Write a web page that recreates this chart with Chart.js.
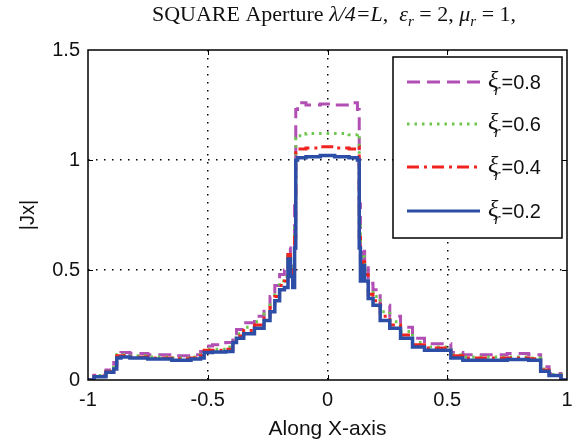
<!DOCTYPE html>
<html>
<head>
<meta charset="utf-8">
<script src="https://cdn.jsdelivr.net/npm/chart.js@4.4.1/dist/chart.umd.min.js"></script>
<style>
  html, body { margin: 0; padding: 0; background: #fff; }
  #wrap { width: 584px; height: 442px; }
</style>
</head>
<body>
<div id="wrap"><canvas id="c" width="584" height="442"></canvas></div>
<script>
// Sample positions along the x axis (shared by every curve)
const xPos = [-1, -0.95, -0.9, -0.885, -0.875, -0.85, -0.8, -0.7, -0.6, -0.54,
  -0.52, -0.51, -0.45, -0.4, -0.39, -0.37, -0.33, -0.28, -0.25, -0.23,
  -0.21, -0.19, -0.17, -0.16, -0.15, -0.14, -0.135, -0.13, -0.12, -0.06,
  0, 0.06, 0.12, 0.13, 0.135, 0.14, 0.15, 0.16, 0.18, 0.2,
  0.24, 0.28, 0.33, 0.38, 0.43, 0.5, 0.53, 0.6, 0.7, 0.8,
  0.88, 0.9, 0.95, 1];

// |Jx| for each value of xi_r
const jxXi02 = [0, 0.015, 0.035, 0.05, 0.1, 0.105, 0.1, 0.095, 0.09, 0.095,
  0.1, 0.125, 0.127, 0.13, 0.17, 0.19, 0.21, 0.235, 0.27, 0.31,
  0.36, 0.41, 0.42, 0.55, 0.47, 0.42, 0.6, 1.0, 1.01, 1.015,
  1.02, 1.015, 1.01, 1.0, 0.6, 0.45, 0.52, 0.45, 0.37, 0.34,
  0.27, 0.235, 0.19, 0.15, 0.135, 0.135, 0.1, 0.09, 0.09, 0.093,
  0.09, 0.04, 0.02, 0];
const jxXi04 = [0, 0.017, 0.038, 0.06, 0.11, 0.11, 0.105, 0.1, 0.097, 0.1,
  0.11, 0.135, 0.135, 0.14, 0.18, 0.2, 0.225, 0.25, 0.29, 0.33,
  0.38, 0.43, 0.45, 0.57, 0.5, 0.45, 0.65, 1.04, 1.05, 1.055,
  1.06, 1.055, 1.05, 1.06, 0.65, 0.48, 0.55, 0.48, 0.39, 0.36,
  0.29, 0.25, 0.205, 0.16, 0.145, 0.145, 0.11, 0.1, 0.1, 0.1,
  0.097, 0.045, 0.022, 0];
const jxXi06 = [0, 0.02, 0.04, 0.07, 0.115, 0.115, 0.11, 0.105, 0.1, 0.105,
  0.115, 0.14, 0.14, 0.15, 0.19, 0.21, 0.24, 0.265, 0.3, 0.35,
  0.4, 0.45, 0.47, 0.58, 0.52, 0.47, 0.7, 1.1, 1.11, 1.12,
  1.12, 1.12, 1.115, 1.12, 0.7, 0.5, 0.56, 0.5, 0.41, 0.38,
  0.31, 0.265, 0.22, 0.17, 0.15, 0.15, 0.115, 0.105, 0.105, 0.105,
  0.1, 0.05, 0.025, 0];
const jxXi08 = [0, 0.022, 0.045, 0.08, 0.12, 0.125, 0.12, 0.115, 0.11, 0.115,
  0.13, 0.155, 0.16, 0.17, 0.21, 0.23, 0.26, 0.29, 0.33, 0.38,
  0.43, 0.48, 0.5, 0.6, 0.55, 0.5, 0.8, 1.23, 1.26, 1.25,
  1.255, 1.25, 1.26, 1.23, 0.8, 0.55, 0.6, 0.53, 0.44, 0.41,
  0.34, 0.29, 0.24, 0.19, 0.165, 0.165, 0.125, 0.115, 0.115, 0.12,
  0.115, 0.06, 0.03, 0];

const xiValues = ['0.2', '0.4', '0.6', '0.8'];
const xTickLabels = ['-1', '-0.5', '0', '0.5', '1'];
const yTickLabels = ['0', '0.5', '1', '1.5'];

const pts = ys => xPos.map((x, i) => ({ x: x, y: ys[i] }));

const lineStyles = [
  { color: '#2c4ea6', dash: [], width: 3.5 },
  { color: '#f0231f', dash: [12, 5, 3, 5], width: 3 },
  { color: '#6fc64c', dash: [2.5, 5], width: 3 },
  { color: '#b24fb4', dash: [13, 7], width: 3 }
];
const curves = [jxXi02, jxXi04, jxXi06, jxXi08];

const datasets = curves.map((ys, i) => ({
  label: '\u03be r=' + xiValues[i],
  data: pts(ys),
  borderColor: lineStyles[i].color,
  borderDash: lineStyles[i].dash,
  borderWidth: lineStyles[i].width,
  pointRadius: 0,
  stepped: 'middle',
  fill: false
}));

const SERIF = '"Liberation Serif", "Times New Roman", serif';
const SANS = '"Liberation Sans", Arial, sans-serif';

// Title with italic symbols and subscripts
const titleParts = [
  { t: 'SQUARE Aperture ', it: false },
  { t: '\u03bb/4=L', it: true },
  { t: ',  ', it: false },
  { t: '\u03b5', it: true },
  { t: 'r', it: true, sub: true },
  { t: ' = 2, ', it: false },
  { t: '\u03bc', it: true },
  { t: 'r', it: true, sub: true },
  { t: ' = 1,', it: false }
];

const decorPlugin = {
  id: 'decor',
  afterDraw(chart) {
    const ctx = chart.ctx;
    const a = chart.chartArea;
    const xs = chart.scales.x, ys = chart.scales.y;
    ctx.save();

    // inward tick marks on all four sides
    ctx.strokeStyle = '#000';
    ctx.lineWidth = 1;
    ctx.beginPath();
    [-0.5, 0, 0.5].forEach(v => {
      const px = Math.round(xs.getPixelForValue(v)) + 0.5;
      ctx.moveTo(px, a.bottom); ctx.lineTo(px, a.bottom - 5);
      ctx.moveTo(px, a.top); ctx.lineTo(px, a.top + 5);
    });
    [0.5, 1].forEach(v => {
      const py = Math.round(ys.getPixelForValue(v)) + 0.5;
      ctx.moveTo(a.left, py); ctx.lineTo(a.left + 5, py);
      ctx.moveTo(a.right, py); ctx.lineTo(a.right - 5, py);
    });
    ctx.stroke();

    // axes box
    ctx.lineWidth = 1.5;
    ctx.strokeRect(a.left, a.top, a.right - a.left, a.bottom - a.top);

    // title
    let w = 0;
    const fontFor = p => (p.it ? 'italic ' : '') + (p.sub ? '15px ' : '22px ') + SERIF;
    titleParts.forEach(p => { ctx.font = fontFor(p); w += ctx.measureText(p.t).width; });
    let x = 334 - w / 2;
    ctx.fillStyle = '#111';
    ctx.textBaseline = 'alphabetic';
    ctx.textAlign = 'left';
    titleParts.forEach(p => {
      ctx.font = fontFor(p);
      ctx.fillText(p.t, x, p.sub ? 26 : 21);
      x += ctx.measureText(p.t).width;
    });

    // legend
    const lx = 393, ly = 57, lw = 169, lh = 181;
    ctx.fillStyle = '#fff';
    ctx.fillRect(lx, ly, lw, lh);
    ctx.lineWidth = 1.5;
    ctx.strokeStyle = '#000';
    ctx.strokeRect(lx, ly, lw, lh);
    const rowY = [82, 124, 167, 211];
    const order = [3, 2, 1, 0];
    order.forEach((di, r) => {
      const ds = chart.data.datasets[di];
      const y = rowY[r];
      ctx.save();
      ctx.strokeStyle = ds.borderColor;
      ctx.lineWidth = 3;
      ctx.setLineDash(ds.borderDash);
      ctx.beginPath();
      ctx.moveTo(407, y); ctx.lineTo(480, y);
      ctx.stroke();
      ctx.restore();
      ctx.fillStyle = '#111';
      ctx.font = 'italic 24px ' + SERIF;
      ctx.fillText('\u03be', 488, y + 5);
      let tx = 488 + ctx.measureText('\u03be').width;
      ctx.font = 'italic 16px ' + SERIF;
      ctx.fillText('r', tx - 4, y + 13);
      tx += ctx.measureText('r').width - 3;
      ctx.font = '20px ' + SANS;
      ctx.fillText('=' + xiValues[di], tx, y + 7);
    });
    ctx.restore();
  }
};

new Chart(document.getElementById('c'), {
  type: 'line',
  data: { datasets: datasets },
  options: {
    responsive: false,
    animation: false,
    devicePixelRatio: 1,
    layout: { padding: { left: 0, right: 17, top: 50, bottom: 0 } },
    plugins: { legend: { display: false }, title: { display: false }, tooltip: { enabled: false } },
    scales: {
      x: {
        type: 'linear', min: -1, max: 1,
        afterFit: s => { s.height = 62; },
        ticks: {
          stepSize: 0.5, padding: 8, color: '#111',
          font: { family: SANS, size: 20 },
          maxRotation: 0,
          callback: (v, i) => xTickLabels[i]
        },
        grid: {
          drawTicks: false,
          lineWidth: 1.5,
          color: c => (c.tick && Math.abs(c.tick.value) < 0.99) ? '#000' : 'rgba(0,0,0,0)'
        },
        border: { display: false, dash: [1.5, 6.5] },
        title: { display: true, text: 'Along X-axis', color: '#111', font: { family: SANS, size: 21 }, padding: { top: 0, bottom: 0 } }
      },
      y: {
        type: 'linear', min: 0, max: 1.5,
        afterFit: s => { s.width = 88; },
        ticks: {
          stepSize: 0.5, padding: 8, color: '#111',
          font: { family: SANS, size: 20 },
          callback: (v, i) => yTickLabels[i]
        },
        grid: {
          drawTicks: false,
          lineWidth: 1.5,
          color: c => (c.tick && c.tick.value > 0.01 && c.tick.value < 1.49) ? '#000' : 'rgba(0,0,0,0)'
        },
        border: { display: false, dash: [1.5, 6.5] },
        title: { display: true, text: '|Jx|', color: '#111', font: { family: SANS, size: 20 }, padding: { top: 16, bottom: 0 } }
      }
    }
  },
  plugins: [decorPlugin]
});
</script>
</body>
</html>
